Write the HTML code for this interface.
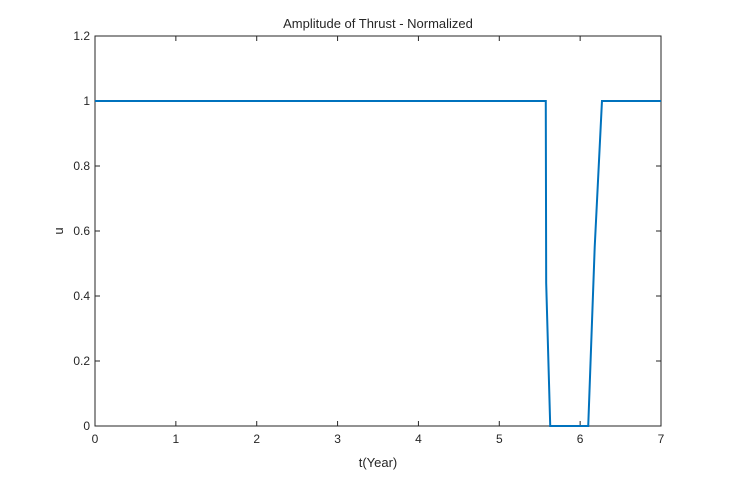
<!DOCTYPE html>
<html><head><meta charset="utf-8"><style>
body{margin:0;background:#fff;width:733px;height:479px;overflow:hidden}
text{font-family:"Liberation Sans",Arial,sans-serif;fill:#262626}
</style></head><body>
<svg id="chart" width="733" height="479" xmlns="http://www.w3.org/2000/svg">
<g id="axes"></g>
</svg>
<script>
const tValues=[0,5.575,5.58,5.63,6.1,6.18,6.27,7];
const uValues=[1,1,0.44,0,0,0.55,1,1];
const xTicks=[0,1,2,3,4,5,6,7];
const yTicks=[0,0.2,0.4,0.6,0.8,1,1.2];
const L=95,R=661,T=36,B=426;
const xs=t=>L+(t-0)/7*(R-L);
const ys=u=>B-(u/1.2)*(B-T);
const NS='http://www.w3.org/2000/svg';
const g=document.getElementById('axes');
function mk(tag,a,parent){const e=document.createElementNS(NS,tag);for(const k in a)e.setAttribute(k,a[k]);(parent||g).appendChild(e);return e;}
const box=mk('rect',{x:L,y:T,width:R-L,height:B-T,fill:'#fff',stroke:'#262626','stroke-width':1});


xTicks.forEach(v=>{const x=xs(v);
mk('line',{x1:x,x2:x,y1:B,y2:B-5,stroke:'#262626'});
mk('line',{x1:x,x2:x,y1:T,y2:T+5,stroke:'#262626'});
const t=mk('text',{x:x,y:B+17,'text-anchor':'middle','font-size':12});t.textContent=v;

});
yTicks.forEach(v=>{const y=ys(v);
mk('line',{x1:L,x2:L+5,y1:y,y2:y,stroke:'#262626'});
mk('line',{x1:R,x2:R-5,y1:y,y2:y,stroke:'#262626'});
const t=mk('text',{x:L-5,y:y+4,'text-anchor':'end','font-size':12});t.textContent=v;

});
const p=mk('polyline',{points:tValues.map((t,i)=>xs(t)+','+ys(uValues[i])).join(' '),fill:'none',stroke:'#0072BD','stroke-width':2});


const ti=mk('text',{x:(L+R)/2,y:28,'text-anchor':'middle','font-size':13});ti.textContent='Amplitude of Thrust - Normalized';


const xl=mk('text',{x:(L+R)/2,y:467,'text-anchor':'middle','font-size':13});xl.textContent='t(Year)';


const yl=mk('text',{x:0,y:0,'text-anchor':'middle','font-size':13,transform:'translate(63,231) rotate(-90)'});yl.textContent='u';


</script>
</body></html>
